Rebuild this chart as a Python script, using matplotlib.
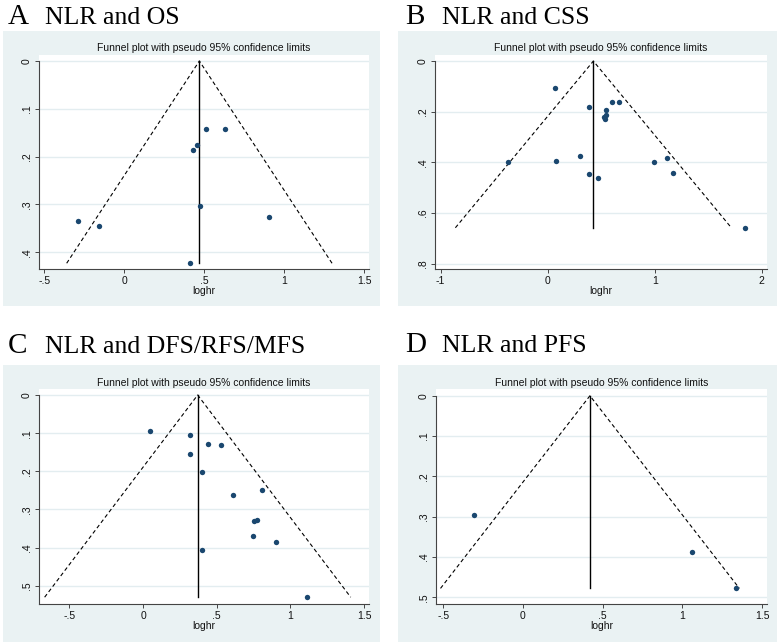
import matplotlib
matplotlib.use("Agg")
import matplotlib.pyplot as plt
from matplotlib.patches import Rectangle

# ---------------- data ----------------
# Panel A: NLR and OS
a_loghr = [-0.288, -0.158, 0.429, 0.454, 0.510, 0.629, 0.475, 0.906, 0.410]
a_se = [0.334, 0.345, 0.186, 0.176, 0.143, 0.143, 0.303, 0.327, 0.423]
a_pooled = 0.469
# Panel B: NLR and CSS
b_loghr = [0.065, 0.383, 0.601, 0.664, 0.545, 0.545, 0.526, 0.533, -0.374,
           0.078, 0.302, 0.383, 0.467, 0.997, 1.112, 1.171, 1.844]
b_se = [0.105, 0.180, 0.162, 0.162, 0.193, 0.211, 0.220, 0.229, 0.399,
        0.393, 0.375, 0.447, 0.462, 0.397, 0.383, 0.442, 0.658]
b_pooled = 0.427
# Panel C: NLR and DFS/RFS/MFS
c_loghr = [0.050, 0.321, 0.443, 0.527, 0.321, 0.398, 0.611, 0.810, 0.753,
           0.774, 0.744, 0.900, 0.398, 1.115]
c_se = [0.095, 0.106, 0.128, 0.132, 0.154, 0.203, 0.262, 0.248, 0.331,
        0.328, 0.370, 0.385, 0.406, 0.530]
c_pooled = 0.371
# Panel D: NLR and PFS
d_loghr = [-0.305, 1.057, 1.333]
d_se = [0.296, 0.388, 0.478]
d_pooled = 0.420

letters = ["A", "B", "C", "D"]
headers = ["NLR and OS", "NLR and CSS", "NLR and DFS/RFS/MFS", "NLR and PFS"]
plot_title = "Funnel plot with pseudo 95% confidence limits"
x_label = "loghr"

a_xticks = [-0.5, 0, 0.5, 1, 1.5]
a_xticklabels = ["-.5", "0", ".5", "1", "1.5"]
a_yticks = [0, 0.1, 0.2, 0.3, 0.4]
a_yticklabels = ["0", ".1", ".2", ".3", ".4"]
b_xticks = [-1, 0, 1, 2]
b_xticklabels = ["-1", "0", "1", "2"]
b_yticks = [0, 0.2, 0.4, 0.6, 0.8]
b_yticklabels = ["0", ".2", ".4", ".6", ".8"]
c_xticks = [-0.5, 0, 0.5, 1, 1.5]
c_xticklabels = ["-.5", "0", ".5", "1", "1.5"]
c_yticks = [0, 0.1, 0.2, 0.3, 0.4, 0.5]
c_yticklabels = ["0", ".1", ".2", ".3", ".4", ".5"]
d_xticks = [-0.5, 0, 0.5, 1, 1.5]
d_xticklabels = ["-.5", "0", ".5", "1", "1.5"]
d_yticks = [0, 0.1, 0.2, 0.3, 0.4, 0.5]
d_yticklabels = ["0", ".1", ".2", ".3", ".4", ".5"]

# ---------------- layout ----------------
W, H = 778, 642
fig = plt.figure(figsize=(W / 100, H / 100), dpi=100)
fig.patch.set_facecolor("white")

BG = "#eaf2f3"
GRID = "#e3edf0"
MARK = "#1a476f"
SANS = "Liberation Sans"
SERIF = "Liberation Serif"


def fx(px):
    return px / W


def fy(py):
    return 1 - py / H


panels = [
    dict(x=a_loghr, se=a_se, pooled=a_pooled, xt=a_xticks, xtl=a_xticklabels,
         yt=a_yticks, ytl=a_yticklabels,
         box=(3, 31, 380, 306), ax=(39, 55, 369, 269),
         xlim=(-0.533, 1.529), ylim=(0.435, -0.0125),
         head=(8, 24, 45), title_y=48),
    dict(x=b_loghr, se=b_se, pooled=b_pooled, xt=b_xticks, xtl=b_xticklabels,
         yt=b_yticks, ytl=b_yticklabels,
         box=(398, 31, 777, 306), ax=(434.7, 55, 766.7, 269.3),
         xlim=(-1.056, 2.047), ylim=(0.822, -0.024),
         head=(405.5, 24, 441.5), title_y=48),
    dict(x=c_loghr, se=c_se, pooled=c_pooled, xt=c_xticks, xtl=c_xticklabels,
         yt=c_yticks, ytl=c_yticklabels,
         box=(3, 365, 380, 642), ax=(39, 389.3, 369.3, 603.7),
         xlim=(-0.706, 1.536), ylim=(0.547, -0.015),
         head=(8, 353, 45), title_y=382.7),
    dict(x=d_loghr, se=d_se, pooled=d_pooled, xt=d_xticks, xtl=d_xticklabels,
         yt=d_yticks, ytl=d_yticklabels,
         box=(398, 365, 777, 642), ax=(435.7, 389.3, 767.3, 603.7),
         xlim=(-0.547, 1.532), ylim=(0.516, -0.016),
         head=(405.5, 352, 441.5), title_y=382.7),
]

for i, p in enumerate(panels):
    l, t, r, b = p["box"]
    fig.patches.append(Rectangle((fx(l), fy(b)), (r - l) / W, (b - t) / H,
                                 transform=fig.transFigure, facecolor=BG,
                                 edgecolor="none", zorder=-10))
    al, at, ar, ab = p["ax"]
    ax = fig.add_axes([fx(al), fy(ab), (ar - al) / W, (ab - at) / H])
    ax.set_zorder(1)
    ax.set_facecolor("white")
    ax.set_xlim(*p["xlim"])
    ax.set_ylim(*p["ylim"])
    for s in ["top", "right"]:
        ax.spines[s].set_visible(False)
    for s in ["left", "bottom"]:
        ax.spines[s].set_color("#444444")
        ax.spines[s].set_linewidth(0.8)
    ax.spines["left"].set_bounds(0, p["ylim"][0])
    ax.set_xticks(p["xt"])
    ax.set_xticklabels(p["xtl"], fontfamily=SANS, fontsize=7.5)
    ax.set_yticks(p["yt"])
    ax.set_yticklabels(p["ytl"], fontfamily=SANS, fontsize=7.5, rotation=90,
                       va="center")
    ax.tick_params(axis="both", length=3, width=0.7, color="#444444", pad=2,
                   labelcolor="#111111")
    for yv in p["yt"]:
        ax.axhline(yv, color=GRID, lw=1.0, zorder=1)
    ax.set_xlabel(x_label, fontfamily=SANS, fontsize=7.5, labelpad=0,
                  color="#111111")

    semax = max(p["se"])
    pooled = p["pooled"]
    ax.plot([pooled - 1.96 * semax, pooled, pooled + 1.96 * semax],
            [semax, 0, semax], color="black", lw=0.8, ls=(0, (3.5, 2.5)),
            zorder=2)
    ax.plot([pooled, pooled], [0, semax], color="black", lw=1.0, zorder=2)
    ax.scatter(p["x"], p["se"], s=15, color=MARK, zorder=3, linewidths=0)

    # plot title
    fig.text(fx((al + ar) / 2), fy(p["title_y"]), plot_title, fontfamily=SANS,
             fontsize=7.5, ha="center", va="center", color="#111111")
    # header
    hx, hy, tx = p["head"]
    fig.text(fx(hx), fy(hy), letters[i], fontfamily=SERIF, fontsize=21,
             ha="left", va="baseline")
    fig.text(fx(tx), fy(hy), headers[i], fontfamily=SERIF, fontsize=18.5,
             ha="left", va="baseline")

fig.savefig("out.png", dpi=100, facecolor="white")
